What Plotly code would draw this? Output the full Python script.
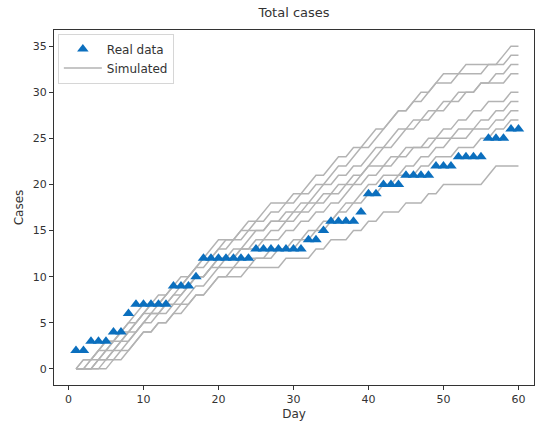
import plotly.graph_objects as go

days = list(range(1, 61))

real_cases = [2, 2, 3, 3, 3, 4, 4, 6, 7, 7,
              7, 7, 7, 9, 9, 9, 10, 12, 12, 12,
              12, 12, 12, 12, 13, 13, 13, 13, 13, 13,
              13, 14, 14, 15, 16, 16, 16, 16, 17, 19,
              19, 20, 20, 20, 21, 21, 21, 21, 22, 22,
              22, 23, 23, 23, 23, 25, 25, 25, 26, 26]

sim_a = [0, 1, 1, 2, 3, 3, 4, 5, 5, 6, 7, 7, 8, 9, 9, 10, 11, 12, 12, 13,
         14, 14, 15, 16, 16, 17, 18, 18, 18, 19, 19, 20, 21, 21, 22, 23, 23, 24, 24, 25,
         26, 26, 27, 28, 28, 29, 29, 30, 31, 31, 31, 32, 32, 32, 32, 33, 33, 34, 35, 35]
sim_b = [0, 0, 1, 2, 2, 3, 4, 5, 6, 7, 7, 8, 8, 9, 10, 10, 11, 12, 13, 14,
         14, 14, 15, 15, 16, 16, 17, 17, 18, 18, 19, 19, 20, 20, 21, 22, 22, 23, 24, 24,
         25, 26, 27, 28, 28, 29, 30, 30, 31, 32, 32, 32, 33, 33, 33, 33, 33, 33, 34, 34]
sim_c = [0, 0, 0, 1, 2, 2, 3, 3, 4, 5, 6, 6, 7, 8, 8, 9, 10, 10, 11, 12,
         12, 13, 13, 14, 15, 15, 16, 16, 17, 17, 18, 18, 19, 20, 20, 21, 21, 22, 22, 23,
         24, 24, 25, 26, 26, 27, 27, 27, 28, 28, 29, 29, 30, 30, 31, 31, 32, 32, 33, 33]
sim_d = [0, 1, 1, 2, 3, 3, 4, 4, 5, 6, 6, 7, 7, 8, 9, 9, 10, 10, 11, 11,
         12, 12, 13, 13, 14, 14, 15, 15, 16, 16, 17, 18, 18, 19, 19, 20, 20, 21, 21, 22,
         23, 24, 24, 25, 26, 26, 27, 28, 28, 29, 29, 30, 30, 30, 31, 31, 31, 31, 32, 32]
sim_e = [0, 0, 1, 1, 2, 3, 3, 4, 4, 5, 6, 6, 7, 7, 8, 9, 10, 10, 11, 12,
         12, 12, 13, 13, 13, 14, 14, 14, 15, 15, 16, 16, 17, 17, 18, 18, 19, 20, 20, 21,
         21, 22, 22, 23, 23, 24, 24, 25, 25, 26, 26, 27, 27, 28, 28, 29, 29, 29, 30, 30]
sim_f = [0, 0, 0, 1, 1, 2, 3, 4, 5, 6, 7, 7, 8, 9, 9, 10, 11, 11, 12, 13,
         13, 14, 14, 15, 15, 15, 16, 16, 16, 17, 17, 17, 18, 18, 19, 19, 20, 20, 21, 22,
         22, 22, 23, 23, 24, 24, 24, 24, 25, 25, 25, 26, 26, 26, 27, 27, 28, 28, 29, 29]
sim_g = [0, 0, 0, 0, 1, 1, 2, 2, 3, 4, 4, 5, 5, 6, 7, 7, 8, 8, 9, 10,
         10, 11, 11, 11, 12, 12, 12, 13, 13, 14, 14, 15, 15, 16, 16, 17, 18, 18, 19, 20,
         20, 21, 21, 21, 22, 22, 23, 23, 24, 24, 25, 25, 25, 26, 26, 26, 27, 27, 28, 28]
sim_h = [0, 0, 0, 1, 1, 2, 2, 3, 4, 5, 5, 6, 6, 7, 7, 8, 9, 9, 10, 11,
         11, 11, 12, 12, 12, 12, 13, 13, 13, 13, 14, 14, 15, 15, 16, 17, 17, 18, 18, 19,
         19, 20, 20, 21, 21, 21, 22, 22, 23, 23, 23, 24, 24, 24, 25, 25, 26, 26, 27, 27]
sim_j = [0, 0, 0, 0, 0, 1, 1, 2, 3, 4, 4, 5, 5, 6, 6, 7, 8, 8, 9, 10,
         10, 10, 10, 11, 11, 11, 11, 11, 12, 12, 12, 12, 13, 13, 14, 14, 14, 15, 15, 16,
         16, 17, 17, 17, 18, 18, 18, 19, 19, 20, 20, 20, 20, 20, 20, 21, 22, 22, 22, 22]

simulations = [sim_a, sim_b, sim_c, sim_d, sim_e, sim_f, sim_g, sim_h, sim_j]

x_ticks = [0, 10, 20, 30, 40, 50, 60]
y_ticks = [0, 5, 10, 15, 20, 25, 30, 35]

fig = go.Figure()
for i, sim in enumerate(simulations):
    fig.add_trace(go.Scatter(
        x=days, y=sim, mode="lines", name="Simulated",
        line=dict(color="#b3b3b3", width=1.5),
        legendgroup="sim", showlegend=(i == 0), legendrank=2,
    ))

fig.add_trace(go.Scatter(
    x=days, y=real_cases, mode="markers", name="Real data",
    marker=dict(symbol="triangle-up", size=10, color="#0b6fbe"),
    legendrank=1,
))

font_family = "DejaVu Sans"
fig.update_layout(
    width=540, height=429,
    margin=dict(l=54, r=6, t=30, b=44),
    paper_bgcolor="white", plot_bgcolor="white",
    font=dict(family=font_family, size=11, color="#333333"),
    title=dict(text="Total cases", x=0.5, xref="paper", y=0.972, yanchor="middle",
               font=dict(size=13, color="#333333")),
    showlegend=True,
    legend=dict(x=0.008, y=0.99, xanchor="left", yanchor="top",
                bordercolor="#d6d6d6", borderwidth=1, bgcolor="rgba(255,255,255,0.85)",
                font=dict(size=12, color="#333333"), tracegroupgap=0, itemwidth=38),
)
fig.update_xaxes(
    range=[-1.93, 62.07], tickvals=x_ticks, ticks="outside", ticklen=4,
    tickcolor="#333333", showline=True, linecolor="#333333", linewidth=1, mirror=True,
    showgrid=False, zeroline=False, automargin=False,
    title=dict(text="Day", font=dict(size=12), standoff=4),
)
fig.update_yaxes(
    range=[-1.75, 36.75], tickvals=y_ticks, ticks="outside", ticklen=4,
    tickcolor="#333333", showline=True, linecolor="#333333", linewidth=1, mirror=True,
    showgrid=False, zeroline=False, automargin=False,
    title=dict(text="Cases", font=dict(size=12), standoff=6),
)

fig.write_html("out.html", config={"displayModeBar": False},
               post_script="document.body.style.margin='0';")
